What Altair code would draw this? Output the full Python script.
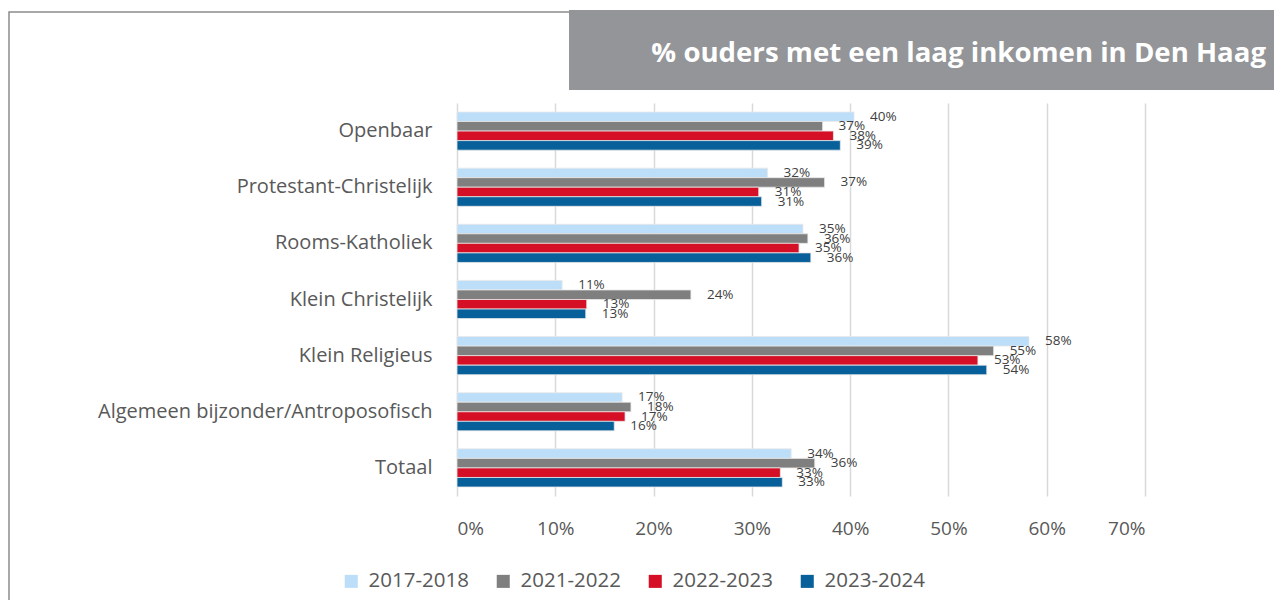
import altair as alt
import pandas as pd

categories = ["Openbaar", "Protestant-Christelijk", "Rooms-Katholiek", "Klein Christelijk",
              "Klein Religieus", "Algemeen bijzonder/Antroposofisch", "Totaal"]
years = ["2017-2018", "2021-2022", "2022-2023", "2023-2024"]
v_2017 = [0.404, 0.316, 0.352, 0.107, 0.582, 0.168, 0.340]
v_2021 = [0.372, 0.374, 0.357, 0.238, 0.546, 0.177, 0.364]
v_2022 = [0.383, 0.307, 0.348, 0.132, 0.530, 0.171, 0.329]
v_2023 = [0.390, 0.310, 0.360, 0.131, 0.539, 0.160, 0.331]
x_ticks = [0, 0.1, 0.2, 0.3, 0.4, 0.5, 0.6, 0.7]
colors = ["#BDDEF9", "#7F7F7F", "#D50F25", "#07609A"]
title_text = "% ouders met een laag inkomen in Den Haag"

rows = []
for series, vals in zip(years, [v_2017, v_2021, v_2022, v_2023]):
    for c, v in zip(categories, vals):
        rows.append({"cat": c, "year": series, "value": v})
df = pd.DataFrame(rows)

FONT = "Open Sans"
W, H = 688, 393
PL, PT = 449, 95

y_enc = alt.Y("cat:N", sort=categories,
              scale=alt.Scale(paddingInner=0.32, paddingOuter=0.16),
              axis=alt.Axis(title=None, labelFontSize=20, labelColor="#595959", labelFont=FONT,
                            labelPadding=25, labelLimit=500, ticks=False, domain=False, grid=False))
yoff_enc = alt.YOffset("year:N", sort=years, scale=alt.Scale(domain=years, paddingInner=0, paddingOuter=0))
x_enc = alt.X("value:Q", scale=alt.Scale(domain=[0, 0.7], nice=False),
              axis=alt.Axis(title=None, format=".0%", values=x_ticks, grid=True, gridColor="#d9d9d9",
                            gridWidth=1.5, domain=False, ticks=False, labelFontSize=19,
                            labelColor="#595959", labelFont=FONT, labelPadding=23))

base = alt.Chart(df)

bars = base.mark_bar(stroke="#e8e8e8", strokeWidth=0.8).encode(
    y=y_enc, yOffset=yoff_enc, x=x_enc,
    color=alt.Color("year:N", sort=years, scale=alt.Scale(domain=years, range=colors),
                    legend=alt.Legend(title=None, orient="none", direction="horizontal",
                                      legendX=-116, legendY=468, symbolType="square",
                                      symbolSize=170, symbolStrokeWidth=0, labelFontSize=20.5,
                                      labelFont=FONT, labelColor="#595959", columnPadding=24,
                                      labelOffset=7, padding=0, labelLimit=300))
)

labels = base.mark_text(align="left", baseline="middle", dx=16, fontSize=13.5, font=FONT,
                        color="#404040").encode(
    y=y_enc, yOffset=yoff_enc, x=x_enc,
    text=alt.Text("value:Q", format=".0%")
)

deco = alt.Chart(pd.DataFrame({"t": [title_text]}))
frame = deco.mark_rect(fill=None, stroke="#8c8c8c", strokeWidth=1.5).encode(
    x=alt.value(-448), x2=alt.value(900), y=alt.value(-91), y2=alt.value(700))
title_box = deco.mark_rect(fill="#939598").encode(
    x=alt.value(112), x2=alt.value(900), y=alt.value(-93), y2=alt.value(-13))
title = deco.mark_text(align="right", baseline="middle", fontSize=27.6, fontWeight="bold",
                       font=FONT, color="white").encode(
    x=alt.value(809), y=alt.value(-49), text="t:N")

chart = alt.layer(frame, bars, labels, title_box, title).properties(
    width=W, height=H,
    autosize=alt.AutoSizeParams(type="none"),
    padding={"left": PL, "top": PT, "right": 1266 - PL - W, "bottom": 592 - PT - H},
    background="white"
).configure_view(stroke=None)

chart.save("out.html", embed_options={"renderer": "svg", "actions": False})
